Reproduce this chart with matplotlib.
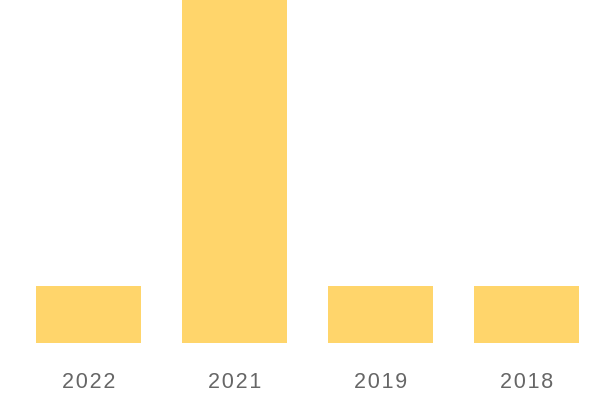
import matplotlib
matplotlib.use("Agg")
from matplotlib import pyplot as plt

years = ["2022", "2021", "2019", "2018"]
counts = [1, 6, 1, 1]

plt.rcParams['font.family'] = ['Liberation Sans', 'DejaVu Sans']

fig = plt.figure(figsize=(6, 4), dpi=100)
ax = fig.add_axes([15.5 / 600, 1 - 343 / 400, 584 / 600, 343 / 400])

ax.bar(range(len(years)), counts, width=0.72, color="#FFD56B")
ax.set_xlim(-0.5, len(years) - 0.5)
ax.set_ylim(0, max(counts))

# slightly letter-spaced labels, as in the original
ax.set_xticks(range(len(years)))
ax.set_xticklabels(["\u200a".join(y) for y in years], fontsize=15.5, color="#666666")
ax.tick_params(axis="x", length=0, pad=21)
ax.set_yticks([])
for s in ax.spines.values():
    s.set_visible(False)

fig.savefig("out.png", dpi=100)
